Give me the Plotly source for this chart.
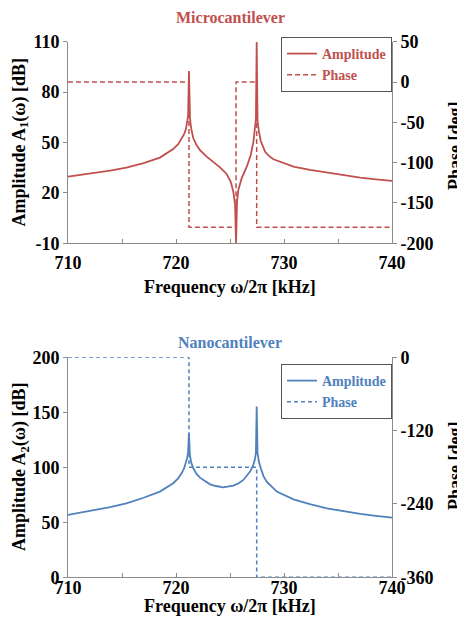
import plotly.graph_objects as go

# ---------------- data ----------------
freq_micro = [710.0, 712.32, 713.9, 715.41, 717.0, 718.51, 719.1, 719.74, 720.2, 720.52,
              720.75, 720.92, 721.05, 721.12, 721.20,
              721.30, 721.40, 721.60, 721.9, 722.22, 722.84, 723.45, 724.07, 724.69,
              725.06, 725.31, 725.47, 725.56, 725.65, 725.77, 726.08, 726.55, 726.92,
              727.17, 727.30, 727.40, 727.47, 727.55, 727.68, 727.85, 728.25, 728.6,
              729.02, 730.0, 730.88, 732.4, 733.97, 735.5, 737.06, 738.5, 740.0]
amp_micro = [29.7, 31.7, 33.2, 35.0, 37.7, 41.0, 43.3, 46.1, 49.0, 52.1,
             55.0, 58.0, 62.0, 66.0, 92.5,
             64.0, 58.5, 52.5, 48.5, 45.5, 41.6, 38.6, 35.2, 31.3,
             26.7, 20.7, 12.8, -10.0, 14.8, 21.7, 28.7, 35.6, 42.6,
             50.5, 57.0, 64.0, 110.0, 63.0, 56.5, 50.9, 44.5, 42.0,
             40.0, 37.6, 35.6, 33.7, 32.1, 30.5, 29.1, 28.1, 27.1]
phase_f_micro = [710.0, 721.2, 721.2, 725.56, 725.56, 727.47, 727.47, 740.0]
phase_micro = [0, 0, -180, -180, 0, 0, -180, -180]

freq_nano = [710.0, 712.32, 713.9, 715.41, 717.0, 718.51, 719.1, 719.74, 720.2, 720.52,
             720.75, 720.92, 721.05, 721.12, 721.20,
             721.28, 721.40, 721.60, 721.9, 722.22, 722.7, 723.15, 723.7, 724.38,
             725.31, 725.8, 726.24, 726.55, 726.86, 727.15, 727.30, 727.40, 727.47,
             727.55, 727.68, 727.85, 728.1, 728.40, 729.0, 729.33, 730.88, 732.4,
             733.97, 735.5, 737.06, 738.5, 740.0]
amp_nano = [56.7, 60.6, 63.8, 67.3, 72.3, 77.9, 81.5, 85.5, 90.0, 94.5,
            99.0, 104.0, 109.0, 114.0, 130.9,
            112.0, 104.5, 99.1, 94.0, 90.6, 87.2, 84.5, 83.0, 81.8,
            83.3, 85.5, 88.5, 92.0, 96.1, 102.0, 107.0, 113.0, 155.2,
            113.0, 105.0, 99.1, 92.0, 87.0, 81.0, 77.9, 70.9, 66.5,
            62.7, 60.0, 57.6, 55.8, 54.2]
phase_f_nano = [710.0, 721.2, 721.2, 727.47, 727.47, 740.0]
phase_nano = [0, 0, -180, -180, -360, -360]

x_ticks = [710, 720, 730, 740]
amp1_ticks = [-10, 20, 50, 80, 110]
ph1_ticks = [-200, -150, -100, -50, 0, 50]
amp2_ticks = [0, 50, 100, 150, 200]
ph2_ticks = [-360, -240, -120, 0]

RED = "#c0504d"
BLUE = "#4f81bd"
FONT = "Liberation Serif"
OFF = 8  # page body margin
W, H = 465 - OFF, 625 - OFF   # figure fits the window exactly


def px_x(p):
    return (p - OFF) / W


def px_y(p):
    return 1 - (p - OFF) / H


def labels(vals):
    return [str(v) for v in vals]


fig = go.Figure()

fig.add_trace(go.Scatter(x=phase_f_micro, y=phase_micro, mode="lines", name="Phase",
                         line=dict(color=RED, width=1.5, dash="5px,3px"),
                         xaxis="x", yaxis="y2", legend="legend", legendrank=2))
fig.add_trace(go.Scatter(x=freq_micro, y=amp_micro, mode="lines", name="Amplitude",
                         line=dict(color=RED, width=1.8),
                         xaxis="x", yaxis="y", legend="legend", legendrank=1))
fig.add_trace(go.Scatter(x=phase_f_nano, y=phase_nano, mode="lines", name="Phase",
                         line=dict(color=BLUE, width=1.5, dash="4px,3px"),
                         xaxis="x2", yaxis="y4", legend="legend2", legendrank=2))
fig.add_trace(go.Scatter(x=freq_nano, y=amp_nano, mode="lines", name="Amplitude",
                         line=dict(color=BLUE, width=1.8),
                         xaxis="x2", yaxis="y3", legend="legend2", legendrank=1))

tickfont = dict(family=FONT, size=18, color="black", weight="bold")
axis_common = dict(showline=True, linecolor="#8c8c8c", linewidth=1, showgrid=False,
                   zeroline=False, ticks="outside", ticklen=4, tickcolor="#8c8c8c",
                   tickfont=tickfont, automargin=False, fixedrange=True)
xminor = dict(dtick=5, tick0=710, ticks="inside", ticklen=4, tickcolor="#8c8c8c")

xdom = [px_x(68), px_x(392)]
top_dom = [px_y(243.3), px_y(41.7)]
bot_dom = [px_y(577.3), px_y(357.3)]

fig.update_layout(
    width=W, height=H,
    margin=dict(l=0, r=0, t=0, b=0),
    paper_bgcolor="white", plot_bgcolor="white",
    xaxis=dict(axis_common, domain=xdom, range=[710, 740], tickvals=x_ticks,
               ticktext=labels(x_ticks), ticks="inside", anchor="y", minor=xminor,
               ticklabelstandoff=3),
    yaxis=dict(axis_common, domain=top_dom, range=[-10, 110], tickvals=amp1_ticks,
               ticktext=labels(amp1_ticks), anchor="x"),
    yaxis2=dict(axis_common, range=[-200, 50], tickvals=ph1_ticks,
                ticktext=labels(ph1_ticks), overlaying="y", side="right", anchor="x"),
    xaxis2=dict(axis_common, domain=xdom, range=[710, 740], tickvals=x_ticks,
                ticktext=labels(x_ticks), ticks="inside", anchor="y3", minor=xminor,
                ticklabelstandoff=-6),
    yaxis3=dict(axis_common, domain=bot_dom, range=[0, 200], tickvals=amp2_ticks,
                ticktext=labels(amp2_ticks), anchor="x2"),
    yaxis4=dict(axis_common, range=[-360, 0], tickvals=ph2_ticks,
                ticktext=labels(ph2_ticks), overlaying="y3", side="right", anchor="x2"),
    legend=dict(x=px_x(281), y=px_y(37), xanchor="left", yanchor="top",
                bordercolor="#555555", borderwidth=1, bgcolor="white",
                font=dict(family=FONT, size=14, color=RED, weight="bold"),
                tracegroupgap=0, itemwidth=30),
    legend2=dict(x=px_x(281), y=px_y(364), xanchor="left", yanchor="top",
                 bordercolor="#555555", borderwidth=1, bgcolor="white",
                 font=dict(family=FONT, size=14, color=BLUE, weight="bold"),
                 tracegroupgap=0, itemwidth=30),
    showlegend=True,
)

title_font = dict(family=FONT, size=18, color="black", weight="bold")
annos = [
    dict(text="Microcantilever", x=px_x(230), y=px_y(17),
         font=dict(family=FONT, size=16, color=RED, weight="bold")),
    dict(text="Nanocantilever", x=px_x(230), y=px_y(342),
         font=dict(family=FONT, size=16, color=BLUE, weight="bold")),
    dict(text="Frequency ω/2π [kHz]", x=px_x(230), y=px_y(287), font=title_font),
    dict(text="Frequency ω/2π [kHz]", x=px_x(230), y=px_y(606), font=title_font),
    dict(text="Amplitude A<sub>1</sub>(ω) [dB]", x=px_x(20), y=px_y(142.5),
         textangle=-90, font=title_font),
    dict(text="Amplitude A<sub>2</sub>(ω) [dB]", x=px_x(20), y=px_y(467),
         textangle=-90, font=title_font),
    dict(text="Phase [deg]", x=px_x(455), y=px_y(146), textangle=-90, font=title_font),
    dict(text="Phase [deg]", x=px_x(455), y=px_y(466), textangle=-90, font=title_font),
]
for a in annos:
    a.update(xref="paper", yref="paper", showarrow=False, xanchor="center", yanchor="middle")
fig.update_layout(annotations=annos)

fig.write_html("out.html")
